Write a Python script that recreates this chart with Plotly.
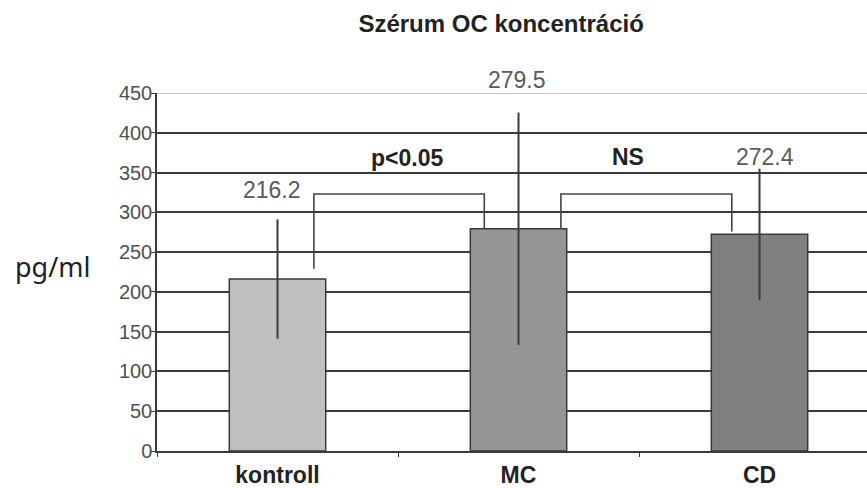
import plotly.graph_objects as go

# ---- data ----
categories = ["kontroll", "MC", "CD"]
means = [216.2, 279.5, 272.4]
errors = [75, 146, 82.5]
value_labels = ["216.2", "279.5", "272.4"]
value_label_y = [328, 466, 369]
y_ticks = [0, 50, 100, 150, 200, 250, 300, 350, 400, 450]

# significance brackets (data coordinates)
bracket1_x = [0.151, 0.151, 0.858, 0.858]
bracket1_y = [229, 323, 323, 279]
bracket1_label = "p<0.05"
bracket1_label_pos = [0.536, 368]

bracket2_x = [1.176, 1.176, 1.885, 1.885]
bracket2_y = [279, 323, 323, 276]
bracket2_label = "NS"
bracket2_label_pos = [1.454, 369]

# ---- styles ----
bar_colors = ["#c0c0c0", "#969696", "#808080"]
value_label_xshift = [-6, -2, 5]
FONT = "Liberation Sans, Arial, sans-serif"
DARK = "#3a3a3a"
Y_MAX = y_ticks[-1]

fig = go.Figure()

fig.add_trace(go.Bar(
    x=categories, y=means, width=0.4,
    marker=dict(color=bar_colors, line=dict(color=DARK, width=1.5)),
    error_y=dict(type="data", array=errors, visible=True,
                 color=DARK, thickness=2, width=0),
    showlegend=False, hoverinfo="skip",
))

for bx, by in [(bracket1_x, bracket1_y), (bracket2_x, bracket2_y)]:
    fig.add_trace(go.Scatter(
        x=bx, y=by, mode="lines", xaxis="x2",
        line=dict(color="#444444", width=1.6),
        showlegend=False, hoverinfo="skip",
    ))

annotations = []
for i, (lab, ly) in enumerate(zip(value_labels, value_label_y)):
    annotations.append(dict(
        x=i, y=ly / Y_MAX, xref="x2", yref="paper", text=lab, showarrow=False,
        xanchor="center", yanchor="middle", xshift=value_label_xshift[i],
        font=dict(family=FONT, size=23, color="#5a5a5a"),
    ))
for lab, pos in [(bracket1_label, bracket1_label_pos), (bracket2_label, bracket2_label_pos)]:
    annotations.append(dict(
        x=pos[0], y=pos[1], xref="x2", yref="y", text="<b>%s</b>" % lab,
        showarrow=False, xanchor="center", yanchor="middle",
        font=dict(family=FONT, size=23, color="#222222"),
    ))
annotations.append(dict(
    x=-0.1465, y=0.514, xref="paper", yref="paper", text="pg/ml",
    showarrow=False, xanchor="center", yanchor="middle",
    font=dict(family="Noto Sans, sans-serif", size=27, color="#222222"),
))

shapes = [dict(type="line", xref="paper", yref="y", x0=0, x1=1,
               y0=Y_MAX, y1=Y_MAX,
               line=dict(color="#ffffff", width=4), layer="below"),
          dict(type="line", xref="paper", yref="y", x0=0, x1=1,
               y0=Y_MAX, y1=Y_MAX,
               line=dict(color="#c4c4c4", width=2), layer="below")]

xr = [-0.5, 2.446]
fig.update_layout(
    width=867, height=488,
    margin=dict(l=157, r=0, t=93, b=35, pad=0),
    paper_bgcolor="white", plot_bgcolor="white",
    title=dict(text="<b>Szérum OC koncentráció</b>", x=0.578, y=0.951,
               xanchor="center", yanchor="middle",
               font=dict(family=FONT, size=24, color="#222222")),
    xaxis=dict(type="category", range=xr, showgrid=False,
               showline=True, linecolor=DARK, linewidth=1.5,
               ticks="outside", tickson="boundaries", ticklen=4, tickcolor=DARK,
               ticklabelstandoff=3,
               tickfont=dict(family=FONT, size=23, color="#222222"),
               tickprefix="<b>", ticksuffix="</b>"),
    xaxis2=dict(range=xr, overlaying="x", visible=False, showgrid=False),
    yaxis=dict(range=[0, Y_MAX], tickvals=y_ticks,
               showgrid=True, gridcolor=DARK, gridwidth=1.6,
               showline=True, linecolor=DARK, linewidth=1.5,
               ticks="outside", ticklen=4, tickcolor=DARK,
               ticklabelstandoff=-5,
               tickfont=dict(family=FONT, size=20, color="#505050"),
               zeroline=False),
    annotations=annotations,
    shapes=shapes,
    bargap=0.6,
)

fig.write_html("out.html")
